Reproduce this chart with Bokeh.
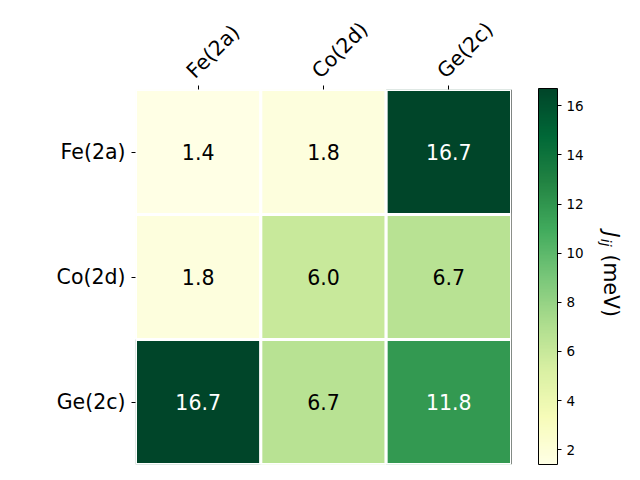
import math
from bokeh.plotting import figure
from bokeh.models import (ColumnDataSource, LinearColorMapper, ColorBar,
                          FixedTicker, Label, Span, Range1d, LinearAxis)
from bokeh.embed import file_html
from bokeh.resources import INLINE
from bokeh.core.properties import value

# ---- data ----
sites = ["Fe(2a)", "Co(2d)", "Ge(2c)"]
row_fe = [1.4, 1.8, 16.7]
row_co = [1.8, 6.0, 6.7]
row_ge = [16.7, 6.7, 11.8]
cbar_ticks = [2, 4, 6, 8, 10, 12, 14, 16]

rows = [row_fe, row_co, row_ge]
n = len(sites)

# ---- palette (YlGn, interpolated) ----
base = ['#ffffe5', '#f7fcb9', '#d9f0a3', '#addd8e', '#78c679',
        '#41ab5d', '#238443', '#006837', '#004529']
def hex2rgb(h):
    return tuple(int(h[i:i + 2], 16) for i in (1, 3, 5))
rgbs = [hex2rgb(c) for c in base]
palette = []
N = 256
for k in range(N):
    t = k / (N - 1) * (len(rgbs) - 1)
    i = min(int(t), len(rgbs) - 2)
    f = t - i
    c = tuple(round(rgbs[i][j] * (1 - f) + rgbs[i + 1][j] * f) for j in range(3))
    palette.append('#%02x%02x%02x' % c)

vals = [v for r in rows for v in r]
lo, hi = min(vals), max(vals)
mapper = LinearColorMapper(palette=palette, low=lo, high=hi)

centers = [i + 0.5 for i in range(n)]
xs, ys, vs, txt, tcol = [], [], [], [], []
for ri, r in enumerate(rows):
    for ci, v in enumerate(r):
        xs.append(centers[ci])
        ys.append(centers[n - 1 - ri])
        vs.append(v)
        txt.append("%.1f" % v)
        tcol.append("white" if v > (lo + hi) / 2 else "black")
src = ColumnDataSource(dict(x=xs, y=ys, v=vs, t=txt, tc=tcol))

p = figure(x_range=Range1d(0, n), y_range=Range1d(0, n),
           x_axis_location="above",
           frame_width=376, frame_height=375,
           min_border_left=135, min_border_right=105,
           min_border_top=89, min_border_bottom=8,
           output_backend="svg", toolbar_location=None)
p.outline_line_color = None
p.grid.grid_line_color = None

p.rect(x="x", y="y", width=1, height=1, source=src,
       fill_color={'field': 'v', 'transform': mapper},
       line_color="white", line_width=3)
p.text(x="x", y="y", text="t", source=src, text_color="tc",
       text_align="center", text_baseline="middle",
       text_font=value("DejaVu Sans"), text_font_size="20.5px")

p.add_layout(Span(location=n, dimension="height", line_color="#222222", line_width=1))

for ax in (p.xaxis, p.yaxis):
    ax.ticker = FixedTicker(ticks=centers)
    ax.minor_tick_line_color = None
    ax.axis_line_color = None
    ax.major_tick_in = 0
    ax.major_tick_out = 4
    ax.major_tick_line_color = "black"
    ax.major_label_text_font = "DejaVu Sans"
    ax.major_label_text_font_size = "20.5px"
    ax.major_label_text_color = "black"
    ax.major_label_standoff = 6
p.yaxis.major_label_overrides = {centers[n - 1 - i]: s for i, s in enumerate(sites)}

# top axis: ticks from the main axis, labels from a slightly shifted axis
p.xaxis.major_label_text_font_size = "1px"
p.xaxis.major_label_text_alpha = 0
p.xaxis.major_label_standoff = 0
shift = 0.064
p.extra_x_ranges = {"lab": Range1d(start=shift, end=n + shift)}
top_lab = LinearAxis(x_range_name="lab", ticker=FixedTicker(ticks=centers),
                     major_label_overrides={t: s for t, s in zip(centers, sites)},
                     axis_line_color=None, major_tick_line_color=None,
                     minor_tick_line_color=None, major_tick_in=0, major_tick_out=0,
                     major_label_orientation=math.pi / 4, major_label_standoff=11,
                     major_label_text_font="DejaVu Sans", major_label_text_font_size="20.5px",
                     major_label_text_color="black")
p.add_layout(top_lab, "above")

cb = ColorBar(color_mapper=mapper, ticker=FixedTicker(ticks=cbar_ticks),
              width=19, height=376, padding=0, margin=0, location=(27, 0),
              bar_line_color="black", bar_line_width=1,
              major_tick_in=0, major_tick_out=4, major_tick_line_color="black",
              minor_tick_line_color=None,
              major_label_text_font="DejaVu Sans", major_label_text_color="black",
              major_label_text_font_size="13.5px", label_standoff=5,
              background_fill_color=None, border_line_color=None)
p.add_layout(cb, "right")

# colorbar label  J_ij (meV), rotated (reads top to bottom), placed in data units
p.add_layout(Label(x=3.79, y=1.864, text="J",
                   angle=-math.pi / 2, text_font="DejaVu Sans", text_font_style="italic",
                   text_color="black",
                   text_font_size="20.5px", text_baseline="middle", text_align="left"), "right")
p.add_layout(Label(x=3.752, y=1.806, text="ij",
                   angle=-math.pi / 2, text_font="DejaVu Sans", text_font_style="italic",
                   text_color="black",
                   text_font_size="14px", text_baseline="middle", text_align="left"), "right")
p.add_layout(Label(x=3.79, y=1.68, text="(meV)",
                   angle=-math.pi / 2, text_font="DejaVu Sans", text_color="black",
                   text_font_size="20.5px", text_baseline="middle", text_align="left"), "right")

open("out.html", "w").write(file_html(p, INLINE))
